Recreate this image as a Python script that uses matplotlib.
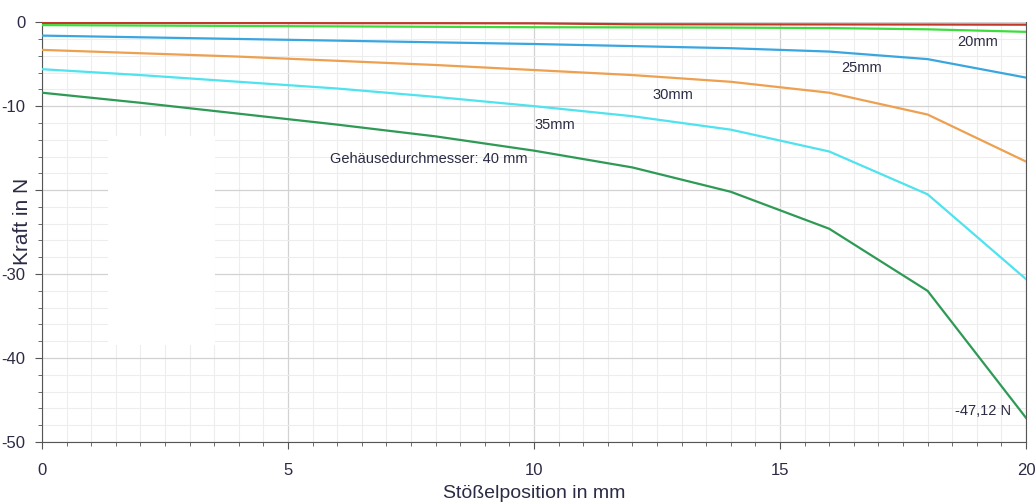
import numpy as np
import matplotlib.pyplot as plt
from matplotlib.patches import Rectangle
from matplotlib.ticker import MultipleLocator, FuncFormatter

plt.rcParams['font.family'] = ['Liberation Sans', 'DejaVu Sans']
plt.rcParams['axes.unicode_minus'] = False

# Stößelposition in mm
x_pos = [0, 2, 4, 6, 8, 10, 12, 14, 16, 18, 20]

# Kraft in N per housing diameter
f_red = [-0.1, -0.1, -0.1, -0.12, -0.12, -0.14, -0.25, -0.26, -0.27, -0.28, -0.3]
f_20 = [-0.35, -0.4, -0.45, -0.5, -0.55, -0.6, -0.62, -0.65, -0.7, -0.85, -1.15]
f_25 = [-1.6, -1.8, -2.0, -2.2, -2.4, -2.6, -2.85, -3.1, -3.5, -4.4, -6.6]
f_30 = [-3.3, -3.7, -4.1, -4.6, -5.1, -5.7, -6.3, -7.1, -8.4, -11.0, -16.6]
f_35 = [-5.6, -6.3, -7.1, -7.9, -8.9, -10.0, -11.2, -12.8, -15.4, -20.5, -30.6]
f_40 = [-8.4, -9.6, -10.9, -12.2, -13.6, -15.3, -17.3, -20.2, -24.6, -32.0, -47.12]

# -20 label is covered by the axis title in the original
hidden_ytick = -20

txt_col = '#2b2b45'

fig = plt.figure(figsize=(10.35, 5.04), dpi=100)
ax = fig.add_axes([0.0406, 0.123, 0.9507, 0.833])

ax.plot(x_pos, f_red, color='#c0392b', lw=1.6, zorder=3)
ax.plot(x_pos, f_20, color='#3ddc3d', lw=1.6, zorder=3)
ax.plot(x_pos, f_25, color='#3aa6e0', lw=1.6, zorder=3)
ax.plot(x_pos, f_30, color='#eda050', lw=1.6, zorder=3)
ax.plot(x_pos, f_35, color='#4ee3ee', lw=1.6, zorder=3)
ax.plot(x_pos, f_40, color='#2e9a55', lw=1.6, zorder=3)

lbl = dict(fontsize=10.5, color=txt_col, va='center')
ax.text(18.6, -2.4, '20mm', **lbl)
ax.text(16.25, -5.5, '25mm', **lbl)
ax.text(12.4, -8.7, '30mm', **lbl)
ax.text(10.0, -12.3, '35mm', **lbl)
ax.text(5.85, -16.3, 'Gehäusedurchmesser: 40 mm', **lbl)
ax.text(18.55, -46.3, '-47,12 N', **lbl)

ax.set_xlim(0, 20)
ax.set_ylim(-50, 0)
ax.xaxis.set_major_locator(MultipleLocator(5))
ax.xaxis.set_minor_locator(MultipleLocator(0.5))
ax.yaxis.set_major_locator(MultipleLocator(10))
ax.yaxis.set_minor_locator(MultipleLocator(2))
ax.yaxis.set_major_formatter(FuncFormatter(
    lambda v, p: '' if round(v) == hidden_ytick else f'{v:.0f}'))
ax.grid(which='major', color='#d2d2d2', lw=0.9, zorder=0)
ax.grid(which='minor', color='#ededed', lw=0.8, zorder=0)
ax.set_axisbelow(True)

# blank patch in the original screenshot
ax.add_patch(Rectangle((1.34, -38.5), 2.18, 25.0, facecolor='white',
                       edgecolor='none', zorder=1))

ax.tick_params(which='both', direction='out', colors='#555555',
               labelcolor=txt_col, labelsize=12)
ax.tick_params(which='major', length=5)
ax.tick_params(which='minor', length=3)
ax.tick_params(axis='x', pad=10)
ax.tick_params(axis='y', pad=7)
for s in ['left', 'bottom', 'right']:
    ax.spines[s].set_color('#555555')
ax.spines['top'].set_visible(False)

ax.set_xlabel('Stößelposition in mm', fontsize=14, color=txt_col, labelpad=5)
ax.set_ylabel('Kraft in N', fontsize=15, color=txt_col, va='center')
ax.yaxis.set_label_coords(-0.02, 0.526)

fig.savefig('out.png', dpi=100, facecolor='white')
